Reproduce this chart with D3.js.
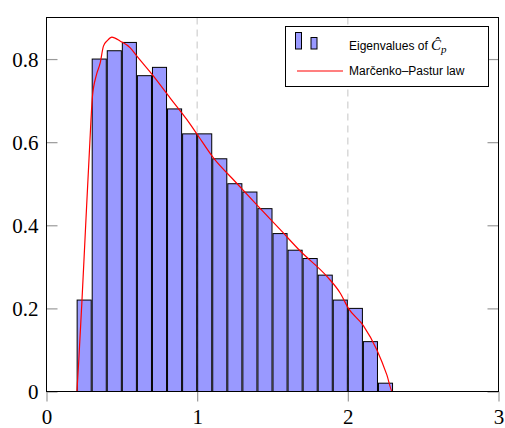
<!DOCTYPE html>
<html>
<head>
<meta charset="utf-8">
<script src="https://cdn.jsdelivr.net/npm/d3@7"></script>
<style>
  html, body { margin: 0; padding: 0; background: #fff; }
  svg { display: block; }
</style>
</head>
<body>
<svg id="chart" width="505" height="428"></svg>
<script>
// ---- Data ----
const binStarts = [0.2,0.3,0.4,0.5,0.6,0.7,0.8,0.9,1.0,1.1,1.2,1.3,1.4,1.5,1.6,1.7,1.8,1.9,2.0,2.1,2.2];
const binWidth = 0.1;
const binValues = [0.22,0.80,0.82,0.84,0.76,0.78,0.68,0.62,0.62,0.56,0.50,0.48,0.44,0.38,0.34,0.32,0.28,0.22,0.20,0.12,0.02];

const mpX = [0.202,0.215,0.235,0.26,0.285,0.305,0.33,0.356,0.378,0.405,0.434,0.49,0.556,0.6,0.71,0.821,0.932,1.005,1.108,1.25,1.396,1.55,1.684,1.861,1.949,2.004,2.104,2.193,2.259,2.296,3.0];
const mpY = [0,0.08,0.216,0.40,0.58,0.71,0.76,0.79,0.831,0.845,0.853,0.843,0.827,0.807,0.759,0.706,0.654,0.616,0.562,0.506,0.449,0.39,0.338,0.277,0.237,0.2,0.158,0.1,0.04,0,0];

const xTicks = [0,1,2,3];
const yTicks = [0,0.2,0.4,0.6,0.8];
const xGrid = [1,2];
const legendLabels = ["Eigenvalues of ", "Marčenko–Pastur law"];

// ---- Layout ----
const L = 46.5, R = 498.5, T = 17.5, B = 391.5;
const svg = d3.select("#chart");
const x = d3.scaleLinear().domain([0,3]).range([L,R]);
const y = d3.scaleLinear().domain([0,0.9]).range([B,T]);
const SERIF = "Liberation Serif";
const SANS = "Liberation Sans";

// grid
svg.append("g").selectAll("line").data(xGrid).join("line")
  .attr("x1", d => x(d)).attr("x2", d => x(d))
  .attr("y1", T).attr("y2", B)
  .attr("stroke", "#cfcfcf").attr("stroke-width", 1.2)
  .attr("stroke-dasharray", "7,5");

// bars
const bars = binStarts.map((s,i) => ({s, v: binValues[i]}));
svg.append("g").selectAll("rect").data(bars).join("rect")
  .attr("x", d => x(d.s) + 0.5)
  .attr("width", d => x(d.s + binWidth) - x(d.s) - 1)
  .attr("y", d => y(d.v))
  .attr("height", d => y(0) - y(d.v))
  .attr("fill", "#9999ff")
  .attr("stroke", "#000").attr("stroke-width", 1);

// curve
const pts = mpX.map((v,i) => [v, mpY[i]]);
svg.append("path").datum(pts)
  .attr("d", d3.line().x(d => x(d[0])).y(d => y(d[1])).curve(d3.curveMonotoneX))
  .attr("fill", "none").attr("stroke", "#ff0000").attr("stroke-width", 1.2);

// axes
const xAxis = svg.append("g").attr("transform", `translate(0,${B})`)
  .call(d3.axisBottom(x).tickValues(xTicks).tickSize(10).tickFormat(d3.format("d")));
const yAxisL = svg.append("g").attr("transform", `translate(${L},0)`)
  .call(d3.axisLeft(y).tickValues(yTicks).tickSize(-11).tickFormat(d => d === 0 ? "0" : d3.format(".1f")(d)));
const yAxisR = svg.append("g").attr("transform", `translate(${R},0)`)
  .call(d3.axisRight(y).tickValues(yTicks).tickSize(-11).tickFormat(""));
[xAxis, yAxisL, yAxisR].forEach(g => {
  g.attr("font-family", SERIF).attr("font-size", 21);
  g.select(".domain").remove();
  g.selectAll(".tick line").attr("stroke", "#9a9a9a").attr("stroke-width", 1.2);
  g.selectAll("text").attr("fill", "#000").attr("font-family", SERIF).attr("font-size", 21);
});
xAxis.selectAll("text").attr("y", 18).attr("dy", "0.71em").attr("text-anchor", "middle");
yAxisL.selectAll("text").attr("x", -8).attr("dy", "0.34em").attr("text-anchor", "end");

// frame
svg.append("rect").attr("x", L).attr("y", T).attr("width", R-L).attr("height", B-T)
  .attr("fill", "none").attr("stroke", "#000").attr("stroke-width", 1);

// legend
const lg = svg.append("g");
lg.append("rect").attr("x", 285.5).attr("y", 26.5).attr("width", 203).attr("height", 60)
  .attr("fill", "#fff").attr("stroke", "#000").attr("stroke-width", 1);
lg.append("rect").attr("x", 295.5).attr("y", 32.5).attr("width", 6).attr("height", 16.5)
  .attr("fill", "#9999ff").attr("stroke", "#000");
lg.append("rect").attr("x", 311).attr("y", 37.5).attr("width", 6).attr("height", 11.5)
  .attr("fill", "#9999ff").attr("stroke", "#000");
lg.append("line").attr("x1", 297).attr("x2", 343).attr("y1", 71).attr("y2", 71)
  .attr("stroke", "#ff0000").attr("stroke-width", 1.2);
const t1 = lg.append("text").attr("x", 349).attr("y", 49.5)
  .attr("font-family", SANS).attr("font-size", 12).attr("fill", "#000");
t1.append("tspan").text(legendLabels[0]);
t1.append("tspan").attr("font-family", SERIF).attr("font-style", "italic").attr("font-size", 15).text("Ĉ");
t1.append("tspan").attr("font-family", SERIF).attr("font-style", "italic").attr("font-size", 11).attr("dy", 3).text("p");
lg.append("text").attr("x", 349).attr("y", 75)
  .attr("font-family", SANS).attr("font-size", 12).attr("fill", "#000")
  .text(legendLabels[1]);
</script>
</body>
</html>
